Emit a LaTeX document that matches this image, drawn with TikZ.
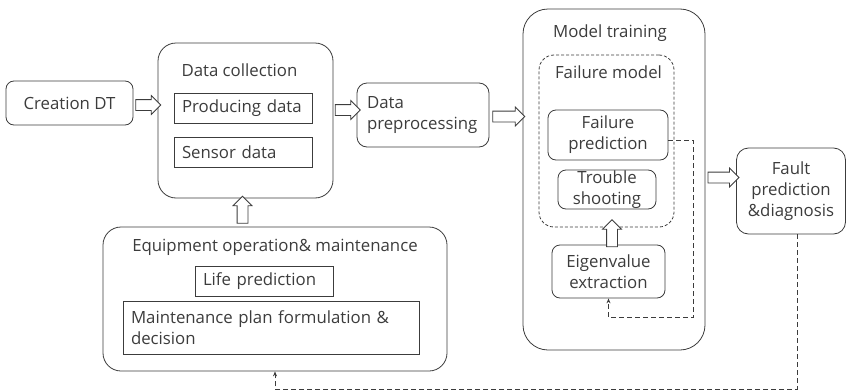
\documentclass[tikz,border=0pt]{standalone}
\usepackage{fontspec}
\setmainfont{Open Sans}
\usetikzlibrary{shapes.arrows,arrows.meta,calc}

\definecolor{linegray}{RGB}{60,60,60}
\definecolor{textgray}{RGB}{60,60,60}

\tikzset{
    rbox/.style={draw=linegray, line width=0.8pt, rounded corners=#1, align=center, inner sep=0pt},
    rbox/.default=8pt,
    sbox/.style={draw=linegray, line width=0.8pt, inner xsep=8pt, inner ysep=0pt, align=left},
    harrow/.style={single arrow, draw=linegray, line width=0.8pt, fill=white,
        inner xsep=0pt, inner ysep=5pt, single arrow head extend=4pt},
    fb/.style={draw=linegray, dash pattern=on 5pt off 3pt, line width=0.8pt, -{Stealth[length=5pt,width=4pt]}}
}

\begin{document}
\begin{tikzpicture}[x=1pt,y=-1pt, font=\fontsize{16.8}{21}\selectfont, text=textgray]
    \useasboundingbox (0,0) rectangle (847,391);

    \node[rbox=8pt, minimum width=127pt, minimum height=44pt] (creation) at (69.5,103) {Creation DT};

    \node[rbox=18pt, minimum width=175pt, minimum height=155pt] (coll) at (245.5,120.5) {};
    \node[anchor=west] (colltitle) at (178,70) {Data collection};
    \node[sbox, minimum width=138pt, minimum height=30pt, text width=122pt] (prod) at (243,108) {Producing data};
    \node[sbox, minimum width=138pt, minimum height=30pt, text width=122pt] (sensor) at (243,152) {Sensor data};

    \node[rbox=10pt, minimum width=132pt, minimum height=64pt, text width=112pt, align=left] (prep) at (423,115) {Data\\preprocessing};

    \node[rbox=25pt, minimum width=182pt, minimum height=341pt] (train) at (614,179.5) {};
    \node (traintitle) at (610,33) {Model training};
    \node[rbox=15pt, dash pattern=on 3pt off 2pt, minimum width=135pt, minimum height=172pt] (fmodel) at (606.5,141) {};
    \node (fmodeltitle) at (608.5,72) {Failure model};
    \node[rbox=8pt, minimum width=120pt, minimum height=50pt] (fpred) at (608,135) {Failure\\prediction};
    \node[rbox=8pt, minimum width=98pt, minimum height=39pt] (trouble) at (607,189.5) {Trouble\\shooting};
    \node[rbox=8pt, minimum width=113pt, minimum height=53pt] (eigen) at (608.5,271.5) {Eigenvalue\\extraction};

    \node[rbox=12pt, minimum width=109pt, minimum height=86pt] (fault) at (791,191) {Fault\\prediction\\\&diagnosis};

    \node[rbox=18pt, minimum width=344pt, minimum height=144pt] (equip) at (275,299) {};
    \node (equiptitle) at (275,247) {Equipment operation\& maintenance};
    \node[sbox, minimum width=138pt, minimum height=30pt, text width=122pt] (life) at (264,281) {Life prediction};
    \node[sbox, minimum width=296pt, minimum height=53pt, text width=280pt] (maint) at (271,328) {Maintenance plan formulation \&\\decision};

    \path (creation.east |- 0,105) -- (coll.west |- 0,105)
        node[harrow, midway, minimum height=25pt] {};
    \path (coll.east |- 0,110) -- (prep.west |- 0,110)
        node[harrow, midway, minimum height=25pt] {};
    \path (prep.east |- 0,116.5) -- (train.west |- 0,116.5)
        node[harrow, midway, minimum height=32pt] {};
    \path (train.east |- 0,177.5) -- (fault.west |- 0,177.5)
        node[harrow, midway, minimum height=31pt] {};
    \path (equip.north -| 242.5,0) -- (coll.south -| 242.5,0)
        node[harrow, midway, rotate=90, minimum height=27pt] {};
    \path (eigen.north -| 612,0) -- (fmodel.south -| 612,0)
        node[harrow, midway, rotate=90, minimum height=27pt] {};

    \draw[fb] ([yshift=-5pt]fpred.east) -- ++(25,0) |- ([yshift=-19pt]eigen.south) -- (eigen.south);
    \draw[fb] ([xshift=6pt]fault.south) -- ++(0,155) -| (equip.south);
\end{tikzpicture}
\end{document}
